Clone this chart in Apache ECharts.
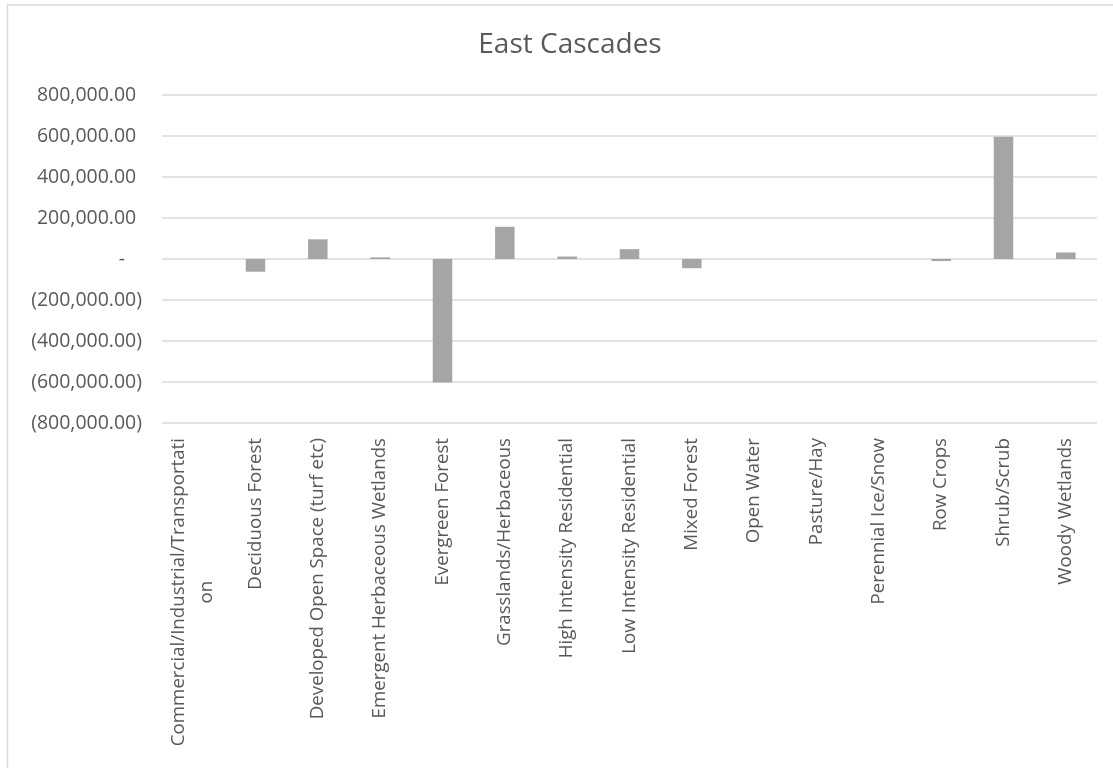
<!DOCTYPE html>
<html>
<head>
<meta charset="utf-8">
<title>East Cascades</title>
<script src="https://cdn.jsdelivr.net/npm/echarts@6/dist/echarts.min.js"></script>
<style>
  html, body { margin: 0; padding: 0; background: #ffffff; }
  #chart { width: 1113px; height: 768px; }
</style>
</head>
<body>
<div id="chart"></div>
<script>
// Net change in area by land cover class
const categories = [
  'Commercial/Industrial/Transportation',
  'Deciduous Forest',
  'Developed Open Space (turf etc)',
  'Emergent Herbaceous Wetlands',
  'Evergreen Forest',
  'Grasslands/Herbaceous',
  'High Intensity Residential',
  'Low Intensity Residential',
  'Mixed Forest',
  'Open Water',
  'Pasture/Hay',
  'Perennial Ice/Snow',
  'Row Crops',
  'Shrub/Scrub',
  'Woody Wetlands'
];
const values = [
  0, -62000, 96000, 8000, -603000, 157000, 12000, 48000,
  -45000, 0, 0, 0, -10000, 596000, 32000
];
const yTicks = [-800000, -600000, -400000, -200000, 0, 200000, 400000, 600000, 800000];

const FONT = '"Open Sans", "Noto Sans", sans-serif';
const TEXT = '#595959';
const HIDDEN = 'rgba(0,0,0,0)';

// Accounting-style number: 1,234.00 / (1,234.00) / -
function accounting(v) {
  if (v === 0) return '{t|-}{h|0)}';
  const s = Math.abs(v).toLocaleString('en-US', { minimumFractionDigits: 2, maximumFractionDigits: 2 });
  return v < 0 ? '{t|(' + s + ')}' : '{t|' + s + '}{h|)}';
}

// Long category names wrap onto a second, centred line
function wrapLabel(v) {
  const max = 34;
  if (v.length <= max) return '{c|' + v + '}';
  return '{c|' + v.slice(0, max) + '}\n{c|' + v.slice(max) + '}';
}

const chart = echarts.init(document.getElementById('chart'), null, { renderer: 'canvas' });

chart.setOption({
  backgroundColor: '#ffffff',
  animation: false,
  title: {
    text: 'East Cascades',
    left: 565,
    top: 26,
    textAlign: 'center',
    textStyle: { fontFamily: FONT, fontSize: 28, fontWeight: 'normal', color: TEXT }
  },
  graphic: [{
    type: 'rect',
    shape: { x: 7.5, y: 5, width: 1200, height: 900 },
    style: { fill: 'none', stroke: '#d9d9d9', lineWidth: 1.5 },
    silent: true
  }],
  grid: { left: 162, right: 16, top: 95, bottom: 345, containLabel: false },
  xAxis: {
    type: 'category',
    data: categories,
    axisLine: { show: false, onZero: false },
    axisTick: { show: false },
    axisLabel: {
      interval: 0,
      rotate: 90,
      margin: 15,
      formatter: wrapLabel,
      rich: {
        c: { align: 'center', fontFamily: FONT, fontSize: 18.7, color: TEXT, lineHeight: 28 }
      }
    }
  },
  yAxis: {
    type: 'value',
    min: yTicks[0],
    max: yTicks[yTicks.length - 1],
    interval: 200000,
    axisLine: { show: false },
    axisTick: { show: false },
    splitLine: { lineStyle: { color: '#d9d9d9', width: 1.5 } },
    axisLabel: {
      margin: 20,
      formatter: accounting,
      rich: {
        t: { fontFamily: FONT, fontSize: 19.5, color: TEXT },
        h: { fontFamily: FONT, fontSize: 19.5, color: HIDDEN }
      }
    }
  },
  series: [{
    type: 'bar',
    data: values,
    barWidth: 19.5,
    itemStyle: { color: '#a5a5a5' }
  }]
});
</script>
</body>
</html>
